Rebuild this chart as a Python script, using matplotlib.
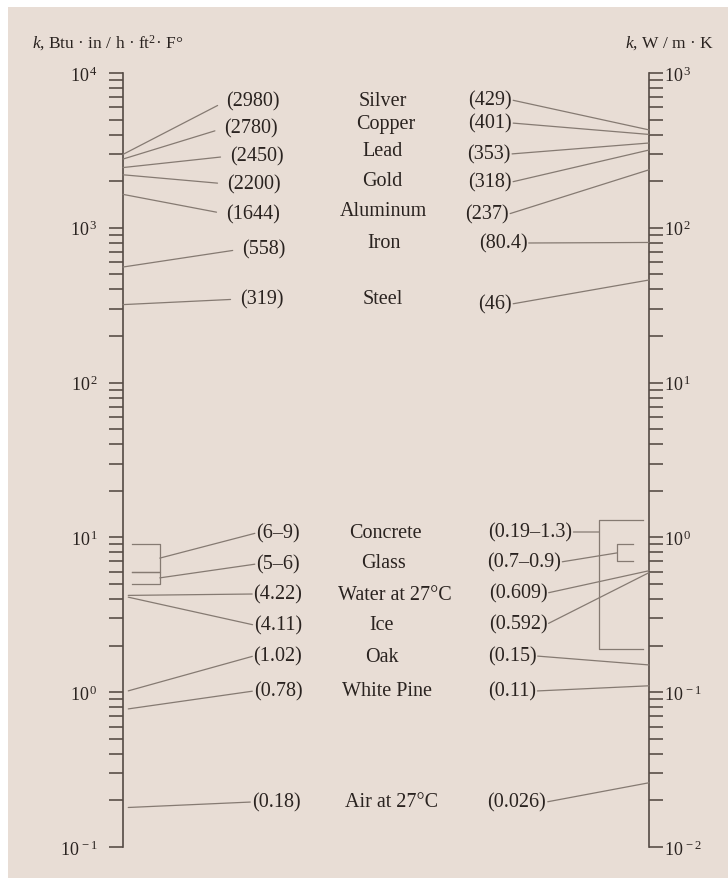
import matplotlib
matplotlib.use("Agg")
import matplotlib.pyplot as plt
from matplotlib.patches import Rectangle
from matplotlib.transforms import blended_transform_factory
from matplotlib.ticker import LogLocator, NullFormatter

plt.rcParams['font.family'] = ['Liberation Serif', 'DejaVu Serif']
plt.rcParams['mathtext.fontset'] = 'custom'
plt.rcParams['mathtext.rm'] = 'Liberation Serif'
plt.rcParams['mathtext.it'] = 'Liberation Serif:italic'
plt.rcParams['mathtext.default'] = 'regular'

# ---------------- data ----------------
materials = ["Silver", "Copper", "Lead", "Gold", "Aluminum", "Iron", "Steel",
             "Concrete", "Glass", "Water at 27°C", "Ice", "Oak", "White Pine",
             "Air at 27°C"]
k_btu = [2980, 2780, 2450, 2200, 1644, 558, 319,
         (6, 9), (5, 6), 4.22, 4.11, 1.02, 0.78, 0.18]
k_si = [429, 401, 353, 318, 237, 80.4, 46,
        (0.19, 1.3), (0.7, 0.9), 0.609, 0.592, 0.15, 0.11, 0.026]
btu_labels = ["(2980)", "(2780)", "(2450)", "(2200)", "(1644)", "(558)", "(319)",
              "(6–9)", "(5–6)", "(4.22)", "(4.11)", "(1.02)", "(0.78)", "(0.18)"]
si_labels = ["(429)", "(401)", "(353)", "(318)", "(237)", "(80.4)", "(46)",
             "(0.19–1.3)", "(0.7–0.9)", "(0.609)", "(0.592)", "(0.15)", "(0.11)",
             "(0.026)"]
left_ticks = [1e-1, 1e0, 1e1, 1e2, 1e3, 1e4]
left_tick_labels = [r"$10^{\,-1}$", r"$10^{\,0}$", r"$10^{\,1}$", r"$10^{\,2}$",
                    r"$10^{\,3}$", r"$10^{\,4}$"]
right_ticks = [1e-2, 1e-1, 1e0, 1e1, 1e2, 1e3]
right_tick_labels = [r"$10^{\,-2}$", r"$10^{\,-1}$", r"$10^{\,0}$", r"$10^{\,1}$",
                     r"$10^{\,2}$", r"$10^{\,3}$"]
left_title = r"$\mathit{k}$, Btu · in / h · ft$^{2}$· F°"
right_title = r"$\mathit{k}$, W / m · K"

# ---------------- layout (pixels, from top) ----------------
W, H = 728, 879
name_x = [383, 386, 383, 382, 383, 384, 383, 385, 383, 395, 382, 382, 387, 392]
name_y = [102, 124, 152, 181, 212, 244, 300, 534, 564, 596, 626, 657, 692, 803]
lab_l_x = [253, 251, 257, 254, 253, 264, 262, 278, 278, 278, 278, 278, 278, 276]
lab_l_y = [102, 129, 157, 185, 215, 250, 300, 534, 565, 595, 626, 657, 692, 803]
lab_r_x = [490, 490, 489, 490, 487, 503, 495, 530, 524, 518, 518, 512, 512, 517]
lab_r_y = [101, 124, 155, 183, 215, 244, 305, 533, 563, 594, 625, 657, 692, 803]

bg = "#e8ddd5"
txt = "#2a2320"
linec = "#857a72"
axc = "#544a44"

fig = plt.figure(figsize=(W / 100, H / 100), dpi=100, facecolor="white")
fig.patches.append(Rectangle((8 / W, 0), 1, (H - 8) / H, transform=fig.transFigure,
                             facecolor=bg, edgecolor="none", zorder=-10))

x0, x1 = 123, 649
ytop, ybot = 74, 848
ax = fig.add_axes([x0 / W, (H - ybot) / H, (x1 - x0) / W, (ybot - ytop) / H])
ax.set_facecolor("none")
ax.set_yscale("log")
ax.set_ylim(1e-1, 1e4)
ax.set_xlim(0, 1)
ax.set_xticks([])
for s in ["top", "bottom", "right"]:
    ax.spines[s].set_visible(False)
ax.spines["left"].set_color(axc)
ax.spines["left"].set_linewidth(1.2)
ax.set_yticks(left_ticks, labels=left_tick_labels)
ax.yaxis.set_minor_locator(LogLocator(base=10, subs=range(2, 10), numticks=20))
ax.yaxis.set_minor_formatter(NullFormatter())
ax.tick_params(axis="y", which="both", direction="out", length=10, width=1.4,
               color="#6e635c", labelcolor=txt, labelsize=13, pad=8)

ax2 = ax.twinx()
ax2.set_facecolor("none")
ax2.set_yscale("log")
ax2.set_ylim(1e-2, 1e3)
for s in ["top", "bottom", "left"]:
    ax2.spines[s].set_visible(False)
ax2.spines["right"].set_color(axc)
ax2.spines["right"].set_linewidth(1.2)
ax2.set_yticks(right_ticks, labels=right_tick_labels)
ax2.yaxis.set_minor_locator(LogLocator(base=10, subs=range(2, 10), numticks=20))
ax2.yaxis.set_minor_formatter(NullFormatter())
ax2.tick_params(axis="y", which="both", direction="out", length=10, width=1.4,
                color="#6e635c", labelcolor=txt, labelsize=13, pad=1)

fig.text(32 / W, 1 - 43 / H, left_title, ha="left", va="center", fontsize=12.5, color=txt)
fig.text(714 / W, 1 - 43 / H, right_title, ha="right", va="center", fontsize=12.5, color=txt)

trL = blended_transform_factory(ax.transAxes, ax.transData)
trR = blended_transform_factory(ax2.transAxes, ax2.transData)
lw = 0.9

# left bracket geometry (axes fraction)
lb_in, lb_out = 0.017, 0.070
# right brackets
rc_v, rc_end = 0.905, 0.989
rg_v, rg_end = 0.939, 0.970

for i, name in enumerate(materials):
    fig.text(name_x[i] / W, 1 - name_y[i] / H, name, ha="center", va="center",
             fontsize=14.5, color=txt)

    # left side
    vb = k_btu[i]
    if isinstance(vb, tuple):
        lo, hi = vb
        ax.plot([lb_in, lb_out, lb_out, lb_in], [hi, hi, lo, lo], transform=trL,
                color=linec, lw=lw, clip_on=False)
        target = (lb_out, (lo * hi) ** 0.5)
    else:
        target = (0.0 if vb > 10 else 0.01, vb)
    gap = 7 if (not isinstance(vb, tuple) and vb > 100) else 1
    ax.annotate(btu_labels[i], xy=target, xycoords=trL,
                xytext=(lab_l_x[i], H - lab_l_y[i]), textcoords="figure pixels",
                ha="center", va="center", fontsize=14.5, color=txt,
                annotation_clip=False,
                arrowprops=dict(arrowstyle="-", color=linec, lw=lw, relpos=(0, 0.5),
                                patchA=None, shrinkA=gap, shrinkB=0))

    # right side
    vs = k_si[i]
    if isinstance(vs, tuple):
        lo, hi = vs
        if i == materials.index("Concrete"):
            xv, xe = rc_v, rc_end
        else:
            xv, xe = rg_v, rg_end
        ax2.plot([xe, xv, xv, xe], [hi, hi, lo, lo], transform=trR,
                 color=linec, lw=lw, clip_on=False)
        if i == materials.index("Concrete"):
            ax2.annotate(si_labels[i], xy=(xv, H - lab_r_y[i]),
                         xycoords=("axes fraction", "figure pixels"),
                         xytext=(lab_r_x[i], H - lab_r_y[i]), textcoords="figure pixels",
                         ha="center", va="center", fontsize=14.5, color=txt,
                         annotation_clip=False,
                         arrowprops=dict(arrowstyle="-", color=linec, lw=lw,
                                         relpos=(1, 0.5), patchA=None,
                                         shrinkA=1, shrinkB=0))
            continue
        target = (xv, (lo * hi) ** 0.5)
    else:
        target = (1.0, vs)
    ax2.annotate(si_labels[i], xy=target, xycoords=trR,
                 xytext=(lab_r_x[i], H - lab_r_y[i]), textcoords="figure pixels",
                 ha="center", va="center", fontsize=14.5, color=txt,
                 annotation_clip=False,
                 arrowprops=dict(arrowstyle="-", color=linec, lw=lw, relpos=(1, 0.5),
                                 patchA=None, shrinkA=1, shrinkB=0))

fig.savefig("out.png", dpi=100, facecolor="white")
